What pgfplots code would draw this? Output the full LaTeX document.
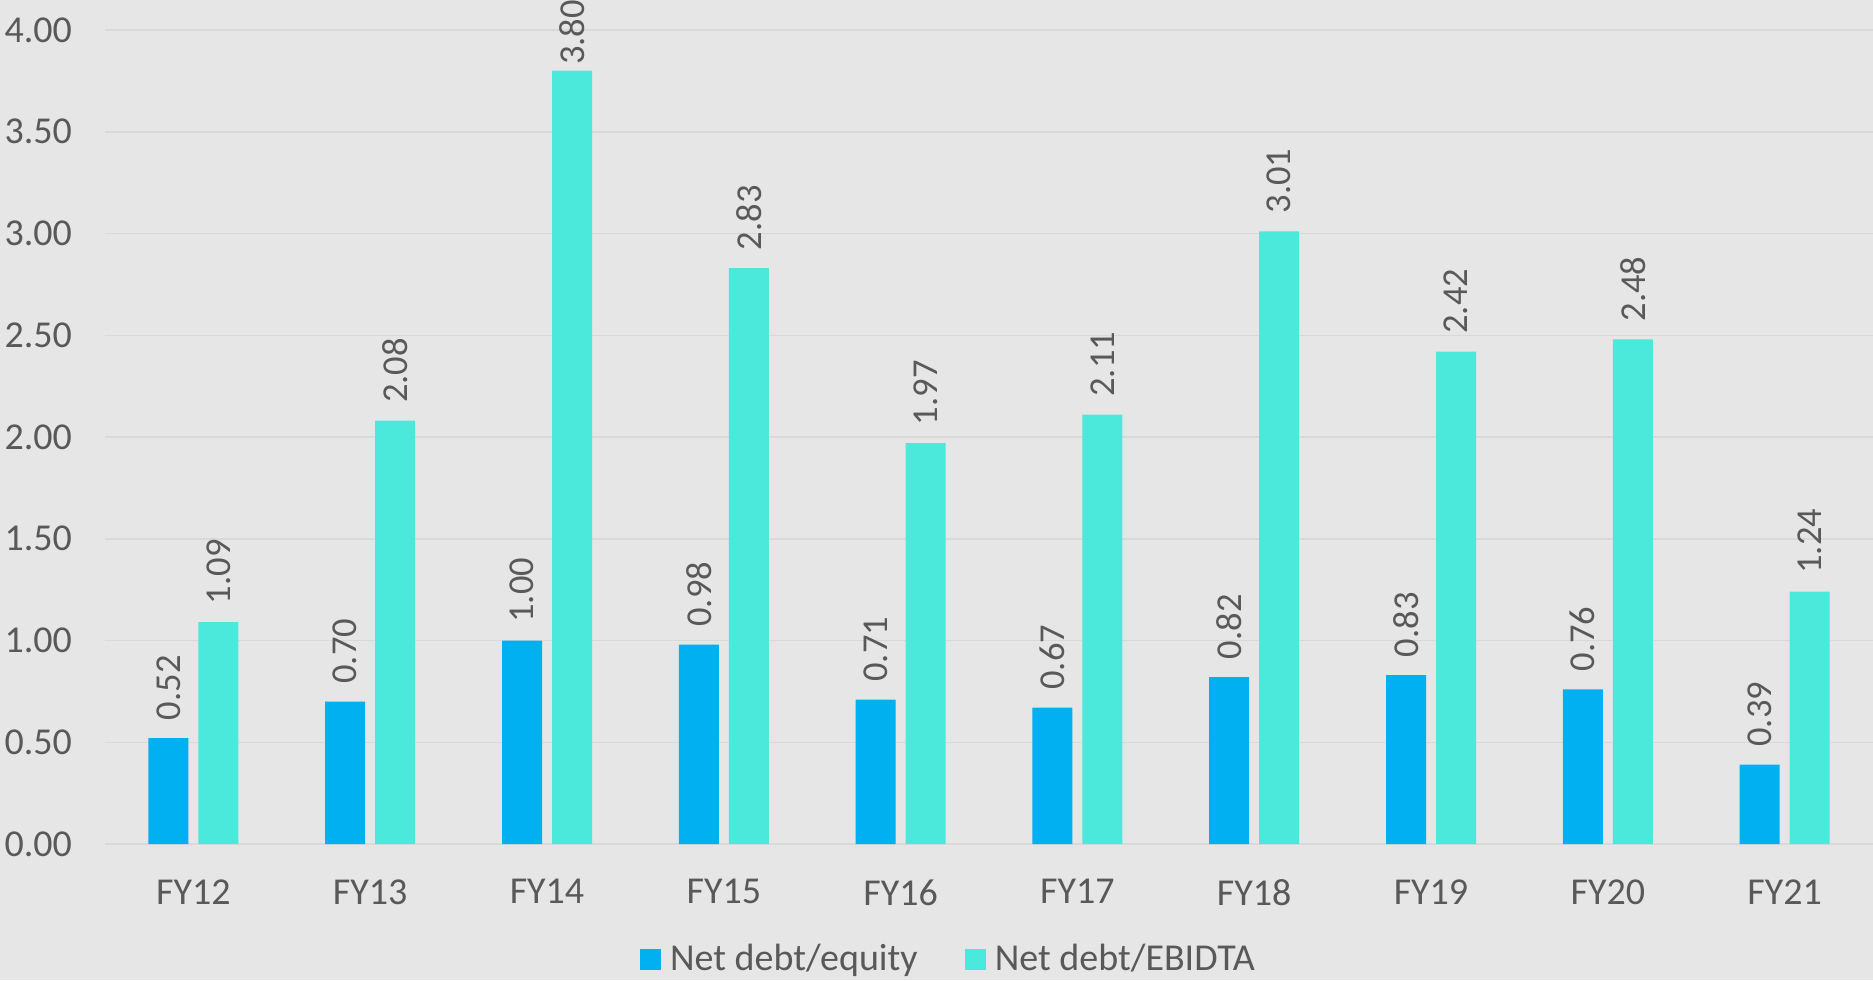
\documentclass[border=0pt]{standalone}
\usepackage{pgfplots}
\pgfplotsset{compat=1.18}
\usepackage{fontspec}
\setmainfont{Carlito}
\definecolor{bg}{HTML}{E7E6E6}
\definecolor{gridc}{HTML}{D9D9D9}
\definecolor{txt}{HTML}{595959}
\definecolor{cblue}{HTML}{00B0F0}
\definecolor{cteal}{HTML}{4BE9DB}
\begin{document}
\begin{tikzpicture}
\fill[bg] (-42pt,-54.4pt) rectangle (707.2pt,337.6pt);
\path[use as bounding box] (-42pt,-54.4pt) rectangle (707.2pt,337.6pt);
\begin{axis}[
  at={(0,0)}, anchor=south west,
  scale only axis,
  width=707.2pt, height=325.6pt,
  xmin=-0.5, xmax=9.5, ymin=0, ymax=4,
  ybar=4pt, bar width=16pt,
  xtick={0,...,9},
  xticklabels={FY12,FY13,FY14,FY15,FY16,FY17,FY18,FY19,FY20,FY21},
  ytick={0,0.5,...,4},
  yticklabel={\pgfmathprintnumber[fixed,fixed zerofill,precision=2]{\tick}},
  /pgf/number format/assume math mode=true,
  major tick length=0pt,
  axis line style={draw=none},
  ymajorgrids, grid style={gridc, line width=0.6pt},
  tick label style={font=\fontsize{15.2pt}{18pt}\selectfont, text=txt},
  yticklabel style={anchor=east, inner xsep=0pt, xshift=-13pt},
  xticklabel style={anchor=north, inner ysep=0pt, yshift=-14pt},
  visualization depends on={rawy \as \rawy},
  nodes near coords={\pgfmathprintnumber[fixed,fixed zerofill,precision=2]{\pgfplotspointmeta}},
  every node near coord/.append style={rotate=90, anchor=west,
    /utils/exec={\pgfmathparse{\rawy>3.5 ? 2.2 : 7}\global\let\myxsep\pgfmathresult},
    inner xsep=\myxsep pt, font=\fontsize{14.6pt}{17pt}\selectfont, text=txt},
  legend columns=2,
  legend style={at={(0.478,-0.1413)}, anchor=center, draw=none, fill=none,
    font=\fontsize{15.2pt}{18pt}\selectfont, text=txt,
    /tikz/every odd column/.append style={column sep=1.5pt},
    /tikz/every even column/.append style={column sep=17pt}},
  legend image code/.code={\fill[#1] (0pt,-4.2pt) rectangle (8.4pt,4.2pt);},
  clip=false,
]
\addplot[fill=cblue, draw=none] coordinates {(0,0.52) (1,0.70) (2,1.00) (3,0.98) (4,0.71) (5,0.67) (6,0.82) (7,0.83) (8,0.76) (9,0.39)};
\addplot[fill=cteal, draw=none] coordinates {(0,1.09) (1,2.08) (2,3.80) (3,2.83) (4,1.97) (5,2.11) (6,3.01) (7,2.42) (8,2.48) (9,1.24)};
\legend{Net debt/equity, Net debt/EBIDTA}
\end{axis}
\end{tikzpicture}
\end{document}
